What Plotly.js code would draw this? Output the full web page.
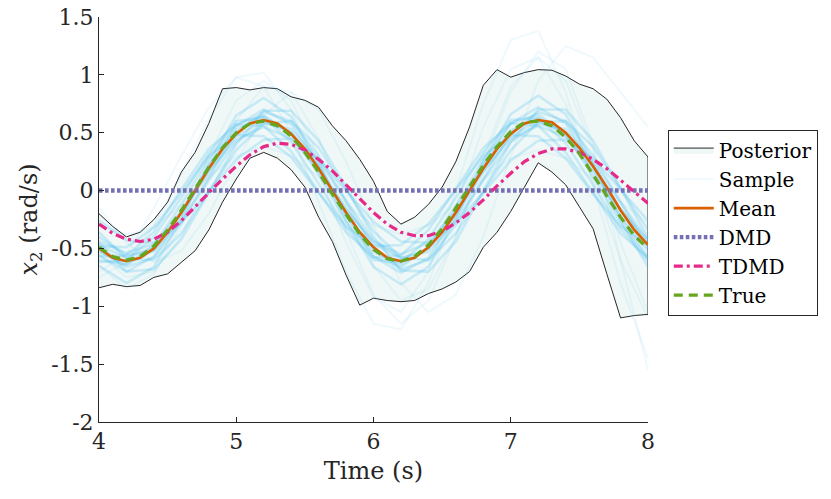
<!DOCTYPE html>
<html>
<head>
<meta charset="utf-8">
<script src="https://cdn.plot.ly/plotly-3.0.1.min.js"></script>
<style>html,body{margin:0;padding:0;background:#fff;}#chart{width:831px;height:499px;}</style>
</head>
<body>
<div id="chart"></div>
<script>
// Time grid for envelope and curves (0.1 s)
const timeFine = [4.0,4.1,4.2,4.3,4.4,4.5,4.6,4.7,4.8,4.9,5.0,5.1,5.2,5.3,5.4,5.5,5.6,5.7,5.8,5.9,6.0,6.1,6.2,6.3,6.4,6.5,6.6,6.7,6.8,6.9,7.0,7.1,7.2,7.3,7.4,7.5,7.6,7.7,7.8,7.9,8.0];
// Posterior envelope
const posteriorUpper = [-0.20,-0.31,-0.40,-0.36,-0.25,-0.10,0.16,0.33,0.58,0.88,0.89,0.87,0.89,0.88,0.81,0.78,0.72,0.56,0.43,0.27,0.08,-0.18,-0.29,-0.23,-0.12,0.03,0.25,0.55,0.91,1.045,0.98,1.02,1.045,1.04,0.99,0.92,0.88,0.79,0.63,0.43,0.29];
const posteriorLower = [-0.84,-0.81,-0.83,-0.82,-0.75,-0.72,-0.62,-0.52,-0.34,-0.10,0.10,0.28,0.33,0.28,0.18,0.03,-0.23,-0.44,-0.73,-0.99,-0.93,-0.95,-0.96,-0.95,-0.89,-0.85,-0.79,-0.70,-0.49,-0.36,-0.18,0.03,0.24,0.16,0.05,-0.14,-0.33,-0.72,-1.10,-1.08,-1.07];
// Curves
const meanValues = [-0.50,-0.58,-0.61,-0.58,-0.50,-0.36,-0.19,0.00,0.19,0.36,0.49,0.58,0.61,0.58,0.49,0.36,0.19,0.00,-0.19,-0.36,-0.49,-0.58,-0.61,-0.58,-0.49,-0.36,-0.19,0.00,0.19,0.36,0.49,0.58,0.61,0.59,0.50,0.37,0.21,0.03,-0.17,-0.34,-0.47];
const dmdValues = [0,0,0,0,0,0,0,0,0,0,0,0,0,0,0,0,0,0,0,0,0,0,0,0,0,0,0,0,0,0,0,0,0,0,0,0,0,0,0,0,0];
const tdmdValues = [-0.29,-0.37,-0.42,-0.44,-0.42,-0.36,-0.26,-0.14,-0.02,0.10,0.21,0.31,0.38,0.41,0.40,0.35,0.27,0.17,0.05,-0.07,-0.19,-0.29,-0.36,-0.39,-0.39,-0.35,-0.28,-0.19,-0.08,0.04,0.15,0.25,0.32,0.36,0.36,0.33,0.27,0.19,0.09,-0.01,-0.11];
const trueValues = [-0.49,-0.57,-0.60,-0.57,-0.48,-0.34,-0.17,0.02,0.20,0.37,0.50,0.58,0.60,0.56,0.47,0.33,0.16,-0.03,-0.21,-0.38,-0.51,-0.59,-0.61,-0.57,-0.47,-0.33,-0.15,0.03,0.22,0.38,0.51,0.59,0.60,0.56,0.46,0.32,0.14,-0.05,-0.23,-0.39,-0.50];
// Posterior samples (0.2 s grid): dense core and faint outer draws
const timeSample = [4.0,4.2,4.4,4.6,4.8,5.0,5.2,5.4,5.6,5.8,6.0,6.2,6.4,6.6,6.8,7.0,7.2,7.4,7.6,7.8,8.0];
const sampleLinesCore = [
  [-0.47,-0.58,-0.49,-0.20,0.17,0.47,0.60,0.50,0.21,-0.16,-0.46,-0.59,-0.50,-0.21,0.16,0.47,0.60,0.50,0.21,-0.16,-0.46],
  [-0.53,-0.64,-0.52,-0.18,0.22,0.53,0.64,0.50,0.17,-0.22,-0.53,-0.64,-0.50,-0.17,0.22,0.52,0.63,0.48,0.16,-0.22,-0.52],
  [-0.57,-0.56,-0.36,0.01,0.36,0.57,0.56,0.34,-0.01,-0.36,-0.58,-0.56,-0.34,0.02,0.37,0.58,0.56,0.33,-0.02,-0.37,-0.58],
  [-0.36,-0.59,-0.60,-0.37,-0.01,0.35,0.58,0.60,0.37,0.01,-0.35,-0.58,-0.60,-0.37,-0.01,0.35,0.59,0.60,0.38,0.02,-0.34],
  [-0.44,-0.54,-0.46,-0.18,0.16,0.44,0.55,0.45,0.18,-0.16,-0.44,-0.55,-0.45,-0.17,0.17,0.45,0.56,0.46,0.18,-0.16,-0.43],
  [-0.56,-0.70,-0.57,-0.22,0.21,0.56,0.70,0.57,0.23,-0.21,-0.57,-0.71,-0.58,-0.22,0.22,0.58,0.72,0.58,0.22,-0.23,-0.58],
  [-0.60,-0.64,-0.47,-0.12,0.28,0.57,0.65,0.49,0.14,-0.27,-0.57,-0.66,-0.49,-0.13,0.27,0.58,0.66,0.49,0.12,-0.28,-0.59],
  [-0.40,-0.56,-0.52,-0.26,0.09,0.42,0.58,0.53,0.26,-0.09,-0.43,-0.58,-0.53,-0.26,0.09,0.42,0.58,0.53,0.25,-0.10,-0.43],
  [-0.48,-0.49,-0.32,-0.02,0.30,0.48,0.47,0.29,-0.02,-0.31,-0.48,-0.47,-0.29,0.01,0.30,0.48,0.47,0.28,-0.03,-0.31,-0.47],
  [-0.45,-0.70,-0.68,-0.42,-0.02,0.40,0.69,0.69,0.43,0.03,-0.40,-0.69,-0.70,-0.44,0.00,0.42,0.70,0.70,0.43,0.02,-0.41],
  [-0.65,-0.80,-0.66,-0.25,0.24,0.65,0.80,0.64,0.24,-0.26,-0.66,-0.81,-0.66,-0.25,0.25,0.66,0.82,0.66,0.24,-0.26,-0.66],
  [-0.26,-0.43,-0.45,-0.28,-0.01,0.27,0.44,0.45,0.27,0.00,-0.27,-0.44,-0.45,-0.28,-0.02,0.26,0.43,0.44,0.28,0.01,-0.26],
  [-0.52,-0.66,-0.58,-0.28,0.12,0.50,0.68,0.60,0.30,-0.10,-0.50,-0.68,-0.60,-0.30,0.10,0.50,0.68,0.60,0.30,-0.10,-0.50],
  [-0.62,-0.60,-0.40,-0.06,0.32,0.60,0.63,0.42,0.06,-0.32,-0.60,-0.62,-0.42,-0.06,0.33,0.61,0.63,0.41,0.05,-0.33,-0.61]
];
const sampleLinesOuter = [
  [-0.75,-0.62,-0.30,0.15,0.62,0.98,1.02,0.70,0.15,-0.45,-0.92,-1.05,-0.70,0.00,0.75,1.30,1.38,0.85,0.05,-0.80,-1.45],
  [-0.15,-0.45,-0.62,-0.52,-0.20,0.25,0.65,0.85,0.70,0.25,-0.30,-0.80,-1.05,-0.90,-0.40,0.30,0.95,1.25,1.15,0.85,0.55],
  [-0.65,-0.85,-0.72,-0.30,0.30,0.78,0.95,0.78,0.30,-0.35,-0.90,-1.15,-0.95,-0.40,0.30,0.90,1.15,0.95,0.35,-0.45,-1.05],
  [-0.30,-0.38,-0.32,-0.12,0.12,0.30,0.38,0.30,0.12,-0.12,-0.30,-0.38,-0.30,-0.12,0.10,0.28,0.35,0.28,0.10,-0.10,-0.28],
  [-0.70,-0.55,-0.15,0.30,0.72,0.98,0.90,0.50,-0.10,-0.70,-1.15,-1.20,-0.80,-0.15,0.55,1.05,1.15,0.75,0.10,-0.60,-1.10],
  [-0.55,-0.75,-0.70,-0.40,0.10,0.60,0.90,0.85,0.45,-0.10,-0.65,-0.95,-0.85,-0.40,0.25,0.85,1.20,1.05,0.40,-0.60,-1.55]
];
// Axis ticks
const xTickValues = [4,5,6,7,8];
const xTickLabels = ['4','5','6','7','8'];
const yTickValues = [-2,-1.5,-1,-0.5,0,0.5,1,1.5];
const yTickLabels = ['-2','-1.5','-1','-0.5','0','0.5','1','1.5'];

const FONT = 'DejaVu Serif, serif';
const INK = '#262626';
const traces = [];
traces.push({
  x: timeFine.concat(timeFine.slice().reverse()),
  y: posteriorUpper.concat(posteriorLower.slice().reverse()),
  type: 'scatter', mode: 'lines', fill: 'toself',
  fillcolor: 'rgb(240,248,247)',
  line: {color: INK, width: 1},
  name: 'Posterior', hoverinfo: 'skip'
});
sampleLinesOuter.forEach(function (s) {
  traces.push({
    x: timeSample, y: s, type: 'scatter', mode: 'lines',
    line: {color: 'rgba(77,190,238,0.09)', width: 2},
    name: 'Sample', legendgroup: 'sample', showlegend: false, hoverinfo: 'skip'
  });
});
sampleLinesCore.forEach(function (s, i) {
  traces.push({
    x: timeSample, y: s, type: 'scatter', mode: 'lines',
    line: {color: 'rgba(77,190,238,0.25)', width: 2.6},
    name: 'Sample', legendgroup: 'sample', showlegend: false, hoverinfo: 'skip'
  });
});
// legend entry for samples (faint, as in the reference)
traces.push({
  x: [null], y: [null], type: 'scatter', mode: 'lines',
  line: {color: 'rgba(77,190,238,0.08)', width: 2},
  name: 'Sample', legendgroup: 'sample', showlegend: true, hoverinfo: 'skip'
});
traces.push({x: timeFine, y: meanValues, type: 'scatter', mode: 'lines', name: 'Mean',
  line: {color: '#d95f02', width: 2.6}});
traces.push({x: timeFine, y: dmdValues, type: 'scatter', mode: 'lines', name: 'DMD',
  line: {color: '#7570b3', width: 4.4, dash: '3.6px,2.4px'}});
traces.push({x: timeFine, y: tdmdValues, type: 'scatter', mode: 'lines', name: 'TDMD',
  line: {color: '#e7298a', width: 3.2, dash: '9px,4px,3px,4px'}});
traces.push({x: timeFine, y: trueValues, type: 'scatter', mode: 'lines', name: 'True',
  line: {color: '#66a61e', width: 3.2, dash: '9px,6px'}});

const layout = {
  width: 831, height: 499,
  margin: {l: 99, r: 183, t: 17, b: 77},
  paper_bgcolor: '#fff', plot_bgcolor: '#fff',
  font: {family: FONT, color: INK, size: 22},
  showlegend: true,
  legend: {
    x: 1.036, y: 0.722, xanchor: 'left', yanchor: 'top',
    bgcolor: '#fff', bordercolor: INK, borderwidth: 1,
    font: {family: FONT, size: 20, color: '#000'},
    itemwidth: 40, tracegroupgap: 0
  },
  xaxis: {
    range: [4, 8], tickvals: xTickValues, ticktext: xTickLabels,
    showline: true, linecolor: INK, linewidth: 1, mirror: false,
    ticks: 'inside', ticklen: 5, tickwidth: 1, tickcolor: INK,
    showgrid: false, zeroline: false, automargin: false,
    tickfont: {family: FONT, size: 22, color: INK},
    title: {text: 'Time (s)', font: {family: FONT, size: 24, color: INK}, standoff: 8}
  },
  yaxis: {
    range: [-2, 1.5], tickvals: yTickValues, ticktext: yTickLabels,
    showline: true, linecolor: INK, linewidth: 1, mirror: false,
    ticks: 'inside', ticklen: 5, tickwidth: 1, tickcolor: INK,
    showgrid: false, zeroline: false, automargin: false,
    tickfont: {family: FONT, size: 22, color: INK},
    title: {text: '<i>x</i><sub>2</sub> (rad/s)', font: {family: FONT, size: 24, color: INK}, standoff: 6}
  }
};
Plotly.newPlot('chart', traces, layout, {displayModeBar: false, staticPlot: true});
</script>
</body>
</html>
